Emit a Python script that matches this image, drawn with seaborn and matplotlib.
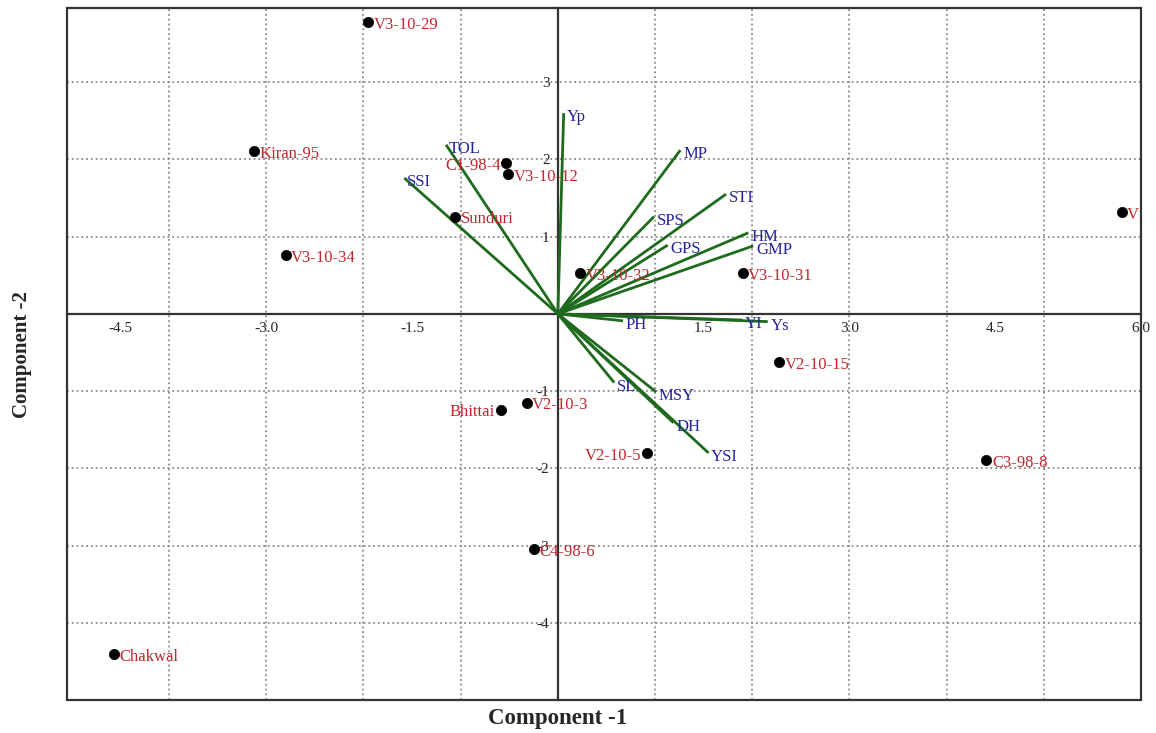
import matplotlib
matplotlib.use('Agg')
import matplotlib.pyplot as plt
import seaborn as sns
from matplotlib.ticker import FixedLocator
from matplotlib.patches import Rectangle

# genotype scores (component 1, component 2)
genotypes = ['V3-10-29', 'Kiran-95', 'C1-98-4', 'V3-10-12', 'Sunduri', 'V3-10-34',
             'V3-10-32', 'V3-10-31', 'V1-10-1', 'V2-10-15', 'Bhittai', 'V2-10-3',
             'V2-10-5', 'C3-98-8', 'C4-98-6', 'Chakwal']
pc1 = [-1.95, -3.13, -0.53, -0.51, -1.06, -2.80, 0.23, 1.90, 5.80, 2.28,
       -0.59, -0.32, 0.92, 4.41, -0.25, -4.57]
pc2 = [3.78, 2.11, 1.95, 1.81, 1.26, 0.76, 0.53, 0.53, 1.32, -0.62,
       -1.24, -1.15, -1.80, -1.89, -3.05, -4.41]
label_left = ['C1-98-4', 'Bhittai', 'V2-10-5']

# trait loadings
traits = ['Yp', 'TOL', 'SSI', 'MP', 'STI', 'SPS', 'GPS', 'HM', 'GMP',
          'PH', 'YI', 'Ys', 'SL', 'MSY', 'DH', 'YSI']
load1 = [0.06, -1.15, -1.58, 1.26, 1.73, 0.99, 1.13, 1.96, 2.01,
         0.67, 1.90, 2.16, 0.58, 1.01, 1.19, 1.55]
load2 = [2.60, 2.19, 1.76, 2.12, 1.55, 1.26, 0.89, 1.05, 0.88,
         -0.09, -0.08, -0.10, -0.89, -1.01, -1.41, -1.80]

x_ticks = [-4.5, -3.0, -1.5, 1.5, 3.0, 4.5, 6.0]
x_grid = [-4, -3, -2, -1, 1, 2, 3, 4, 5]
y_ticks = [-4, -3, -2, -1, 1, 2, 3]

sns.set_style('white')
plt.rcParams['font.family'] = ['Liberation Serif', 'DejaVu Serif']
plt.rcParams['axes.unicode_minus'] = False

fig = plt.figure(figsize=(11.56, 7.33), dpi=100)
ax = fig.add_axes([0.058, 0.045, 0.929, 0.944])
ax.set_xlim(-5.05, 6.0)
ax.set_ylim(-5.0, 3.96)

# dotted grid every unit, ticks labelled every 1.5 on x
ax.xaxis.remove_overlapping_locs = False
ax.xaxis.set_minor_locator(FixedLocator(x_grid))
ax.set_xticks(x_ticks, labels=[f'{v:.1f}' for v in x_ticks])
ax.set_yticks(y_ticks, labels=[str(v) for v in y_ticks])
ax.grid(which='minor', axis='x', color='#8a8a8a', linestyle=':', linewidth=1.3)
ax.grid(which='major', axis='y', color='#8a8a8a', linestyle=':', linewidth=1.3)
ax.grid(which='major', axis='x', visible=False)

ax.spines['left'].set_position(('data', 0))
ax.spines['bottom'].set_position(('data', 0))
ax.spines['top'].set_visible(False)
ax.spines['right'].set_visible(False)
for s in ['left', 'bottom']:
    ax.spines[s].set_linewidth(1.6)
    ax.spines[s].set_color('#333333')
ax.add_patch(Rectangle((0, 0), 1, 1, transform=ax.transAxes, fill=False,
                       lw=1.6, ec='#333333', clip_on=False, zorder=6))

ax.tick_params(axis='x', which='major', direction='in', length=5, labelsize=11, pad=6, color='#333333')
ax.tick_params(axis='y', which='major', direction='out', length=5, labelsize=11, pad=1, color='#333333')
ax.tick_params(which='minor', length=0)

# loading vectors
for t, lx, ly in zip(traits, load1, load2):
    ax.plot([0, lx], [0, ly], color='#1e6b1e', lw=2.0, zorder=3, solid_capstyle='butt')
    ax.annotate(t, (lx, ly), xytext=(2, -3), textcoords='offset points',
                ha='left', va='center', fontsize=12, color='#23239a', zorder=4)

# genotype points
sns.scatterplot(x=pc1, y=pc2, color='black', s=55, edgecolor='black', linewidth=0.5,
                zorder=5, ax=ax, legend=False)
for g, px, py in zip(genotypes, pc1, pc2):
    if g in label_left:
        off, ha = (-4, -2), 'right'
    else:
        off, ha = (4, -2), 'left'
    ax.annotate(g, (px, py), xytext=off, textcoords='offset points',
                ha=ha, va='center', fontsize=12, color='#c0262c', zorder=4,
                annotation_clip=False, clip_on=True)

fig.text(0.482, 0.02, 'Component -1', ha='center', va='center',
         fontsize=16.5, fontweight='bold')
fig.text(0.019, 0.516, 'Component -2', ha='center', va='center',
         rotation=90, fontsize=15, fontweight='bold')

fig.savefig('out.png', dpi=100)
